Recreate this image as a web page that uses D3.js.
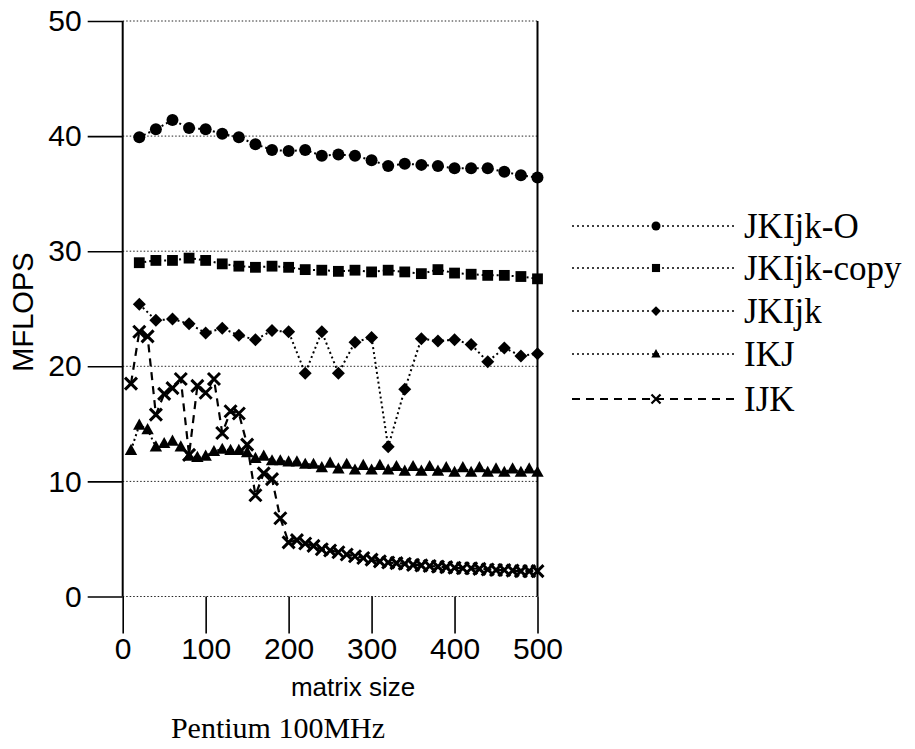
<!DOCTYPE html>
<html>
<head>
<meta charset="utf-8">
<script src="https://cdn.jsdelivr.net/npm/d3@7"></script>
<style>
  html, body { margin: 0; padding: 0; background: #fff; }
  svg { display: block; }
</style>
</head>
<body>
<svg id="chart" width="915" height="749"></svg>
<script>
// ---------------- data ----------------
const sizes20 = [20,40,60,80,100,120,140,160,180,200,220,240,260,280,300,320,340,360,380,400,420,440,460,480,500];
const sizes10 = [10,20,30,40,50,60,70,80,90,100,110,120,130,140,150,160,170,180,190,200,
                 210,220,230,240,250,260,270,280,290,300,310,320,330,340,350,360,370,380,390,400,
                 410,420,430,440,450,460,470,480,490,500];

const jkijkO = [39.9,40.6,41.4,40.7,40.6,40.2,39.9,39.3,38.8,38.7,38.8,38.3,38.4,38.3,37.9,37.4,37.6,37.5,37.4,37.2,37.2,37.2,36.9,36.6,36.4];
const jkijkCopy = [29.0,29.2,29.2,29.4,29.2,28.9,28.7,28.6,28.7,28.6,28.4,28.35,28.25,28.35,28.2,28.35,28.2,28.05,28.4,28.1,28.0,27.9,27.9,27.8,27.6];
const jkijk = [25.4,24.0,24.1,23.7,22.9,23.3,22.7,22.3,23.1,23.0,19.4,23.0,19.4,22.1,22.5,13.0,18.0,22.4,22.2,22.3,21.9,20.4,21.6,20.9,21.1];
const ikj = [12.7,14.9,14.5,13.0,13.3,13.5,13.0,12.2,12.1,12.2,12.6,12.8,12.7,12.7,12.5,12.0,12.2,11.8,11.8,11.7,
             11.7,11.5,11.5,11.2,11.6,11.1,11.5,11.0,11.4,11.0,11.4,11.0,11.3,10.9,11.3,10.9,11.3,10.9,11.2,10.8,
             11.2,10.8,11.2,10.8,11.1,10.8,11.1,10.8,11.1,10.8];
const ijk = [18.5,23.0,22.6,15.8,17.6,18.1,18.9,12.3,18.3,17.7,18.9,14.2,16.1,15.9,13.2,8.8,10.7,10.2,6.8,4.7,
             4.9,4.6,4.4,4.1,4.0,3.85,3.65,3.5,3.35,3.2,3.05,2.95,2.9,2.85,2.75,2.7,2.65,2.6,2.55,2.5,
             2.45,2.45,2.4,2.35,2.3,2.3,2.25,2.2,2.2,2.2];

const xTicks = [0,100,200,300,400,500];
const yTicks = [0,10,20,30,40,50];
const seriesNames = ["JKIjk-O","JKIjk-copy","JKIjk","IKJ","IJK"];

const xTitle = "matrix size";
const yTitle = "MFLOPS";
const caption = "Pentium 100MHz";

// ---------------- layout ----------------
const svg = d3.select("#chart");
const x = d3.scaleLinear().domain([0,500]).range([122.7, 537.5]);
const y = d3.scaleLinear().domain([0,50]).range([596.5, 21]);

const sansFont = "'Liberation Sans', Arial, Helvetica, sans-serif";
const serifFont = "'Liberation Serif', 'Times New Roman', serif";

// gridlines (dotted)
svg.append("g").selectAll("line").data(yTicks).join("line")
  .attr("x1", x(0)).attr("x2", x(500))
  .attr("y1", d => y(d)).attr("y2", d => y(d))
  .attr("stroke", "#222").attr("stroke-width", 1)
  .attr("stroke-dasharray", "1.5,2");

// left axis
const yAxis = d3.axisLeft(y).tickValues(yTicks).tickSize(35).tickPadding(6).tickFormat(d3.format("d"));
const gy = svg.append("g").attr("transform", `translate(${x(0)},0)`).call(yAxis);
gy.select(".domain").remove();
gy.selectAll(".tick line").attr("stroke", "#000").attr("stroke-width", 1.6);
gy.selectAll(".tick text").attr("font-family", sansFont).attr("font-size", 30).attr("fill", "#000");

// bottom axis ticks
const xAxis = d3.axisBottom(x).tickValues(xTicks).tickSize(37).tickPadding(4).tickFormat(d3.format("d"));
const gx = svg.append("g").attr("transform", `translate(0,${y(0)})`).call(xAxis);
gx.select(".domain").remove();
gx.selectAll(".tick line").attr("stroke", "#000").attr("stroke-width", 1.6);
gx.selectAll(".tick text").attr("font-family", sansFont).attr("font-size", 30).attr("fill", "#000");

// vertical frame lines (left and right)
svg.append("g").selectAll("line").data([0,500]).join("line")
  .attr("x1", d => x(d)).attr("x2", d => x(d))
  .attr("y1", y(50)).attr("y2", y(0))
  .attr("stroke", "#000").attr("stroke-width", 2);

// axis titles
svg.append("text").attr("x", 353).attr("y", 696)
  .attr("text-anchor", "middle").attr("font-family", sansFont).attr("font-size", 26)
  .text(xTitle);
svg.append("text").attr("x", 278).attr("y", 738)
  .attr("text-anchor", "middle").attr("font-family", serifFont).attr("font-size", 30)
  .text(caption);
svg.append("text")
  .attr("transform", "translate(33,312) rotate(-90)")
  .attr("text-anchor", "middle").attr("font-family", sansFont).attr("font-size", 29)
  .text(yTitle);

// ---------------- markers ----------------
function drawMarker(g, type, cx, cy, s) {
  if (type === "circle") {
    g.append("circle").attr("cx", cx).attr("cy", cy).attr("r", 6 * s).attr("fill", "#000");
  } else if (type === "square") {
    const h = 5.4 * s;
    g.append("rect").attr("x", cx - h).attr("y", cy - h).attr("width", 2*h).attr("height", 2*h).attr("fill", "#000");
  } else if (type === "diamond") {
    const h = 6.5 * s;
    g.append("path").attr("d", `M${cx},${cy-h}L${cx+h},${cy}L${cx},${cy+h}L${cx-h},${cy}Z`).attr("fill", "#000");
  } else if (type === "triangle") {
    const h = 6.2 * s;
    g.append("path").attr("d", `M${cx},${cy-h*1.05}L${cx+h},${cy+h*0.75}L${cx-h},${cy+h*0.75}Z`).attr("fill", "#000");
  } else if (type === "cross") {
    const h = 6 * s;
    g.append("path").attr("d", `M${cx-h},${cy-h}L${cx+h},${cy+h}M${cx-h},${cy+h}L${cx+h},${cy-h}`)
      .attr("stroke", "#000").attr("stroke-width", 3 * Math.max(s,0.75)).attr("fill", "none");
  }
}

const series = [
  {name: seriesNames[0], xs: sizes20, ys: jkijkO,    marker: "circle",   dash: "2,3"},
  {name: seriesNames[1], xs: sizes20, ys: jkijkCopy, marker: "square",   dash: "2,3"},
  {name: seriesNames[2], xs: sizes20, ys: jkijk,     marker: "diamond",  dash: "2,3"},
  {name: seriesNames[3], xs: sizes10, ys: ikj,       marker: "triangle", dash: "2,3"},
  {name: seriesNames[4], xs: sizes10, ys: ijk,       marker: "cross",    dash: "8,6"}
];

const line = d3.line().x(d => x(d[0])).y(d => y(d[1]));

series.forEach(s => {
  const pts = s.xs.map((v, i) => [v, s.ys[i]]);
  const g = svg.append("g");
  g.append("path").datum(pts).attr("d", line)
    .attr("fill", "none").attr("stroke", "#000")
    .attr("stroke-width", s.marker === "cross" ? 2.2 : 2)
    .attr("stroke-dasharray", s.dash);
  pts.forEach(p => drawMarker(g, s.marker, x(p[0]), y(p[1]), 1));
});

// ---------------- legend ----------------
const legendY = [226, 268, 311, 354, 399];
const leg = svg.append("g");
series.forEach((s, i) => {
  const ly = legendY[i];
  leg.append("line").attr("x1", 572).attr("x2", 734).attr("y1", ly).attr("y2", ly)
    .attr("stroke", "#000").attr("stroke-width", s.marker === "cross" ? 2 : 1.6)
    .attr("stroke-dasharray", s.marker === "cross" ? "8,6" : "2,3");
  drawMarker(leg, s.marker, 656, ly, 0.75);
  leg.append("text").attr("x", 744).attr("y", ly + 12)
    .attr("font-family", serifFont).attr("font-size", 35).attr("fill", "#000")
    .text(s.name);
});
</script>
</body>
</html>
